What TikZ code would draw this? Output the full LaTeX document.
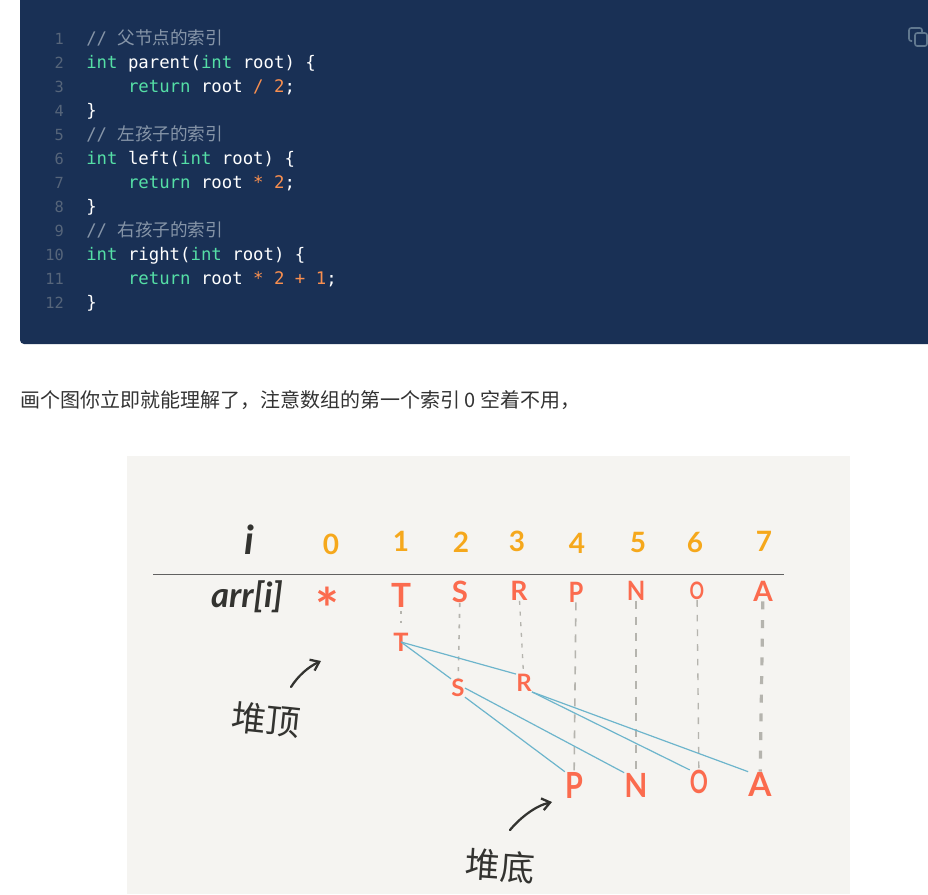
\documentclass[tikz,border=0pt]{standalone}
\usepackage{fontspec}
\usetikzlibrary{arrows.meta}
\setmainfont{Lato}
\setmonofont{DejaVu Sans Mono}
\newfontfamily\cjkfont{Noto Sans CJK SC}
\definecolor{codebg}{HTML}{193055}
\definecolor{kwc}{HTML}{55DFA6}
\definecolor{cmt}{HTML}{8695A8}
\definecolor{numc}{HTML}{F98F4F}
\definecolor{lnc}{HTML}{56657A}
\definecolor{panel}{HTML}{F5F4F1}
\definecolor{letterc}{HTML}{FB6B4E}
\definecolor{digitc}{HTML}{F5A81C}
\definecolor{inkc}{HTML}{333330}
\definecolor{edgec}{HTML}{6DB5CC}
\definecolor{dashc}{HTML}{B5B4AE}
\definecolor{iconc}{HTML}{61788F}
\newcommand{\kw}[1]{\textcolor{kwc}{#1}}
\newcommand{\nm}[1]{\textcolor{numc}{#1}}
\newcommand{\cm}[1]{\textcolor{cmt}{// {\cjkfont\fontsize{13.2}{13.2}\selectfont #1}}}
\tikzset{
  codeline/.style={anchor=base west,inner sep=0pt,text=white,font=\ttfamily\fontsize{13}{13}\selectfont},
  lineno/.style={anchor=base east,inner sep=0pt,text=lnc,font=\ttfamily\fontsize{11.5}{12}\selectfont},
  prose/.style={anchor=base west,inner sep=0pt,text=black!80,font=\cjkfont\fontsize{15}{15}\selectfont},
  digitl/.style={inner sep=0pt,text=digitc,font=\bfseries\fontsize{21}{21}\selectfont},
  letterl/.style={inner sep=0pt,minimum width=10pt,minimum height=10pt,text=letterc,font=\bfseries\fontsize{#1}{#1}\selectfont},
  narrow/.style={xscale=#1,transform shape},
  inkl/.style={inner sep=0pt,text=inkc,font=\bfseries\itshape\fontsize{#1}{#1}\selectfont},
  handl/.style={inner sep=0pt,text=inkc,font=\cjkfont\fontsize{#1}{#1}\selectfont},
  tree/.style={draw=edgec,line width=0.9pt},
  thindash/.style={draw=dashc,line width=1pt,dash pattern=on 3pt off 5pt},
  thickdash/.style={draw=dashc,line width=2.4pt,dash pattern=on 6pt off 8pt},
  meddash/.style={draw=dashc,line width=1.6pt,dash pattern=on 6pt off 6pt},
  dotsl/.style={draw=dashc,line width=2pt,dash pattern=on 2pt off 5pt},
  handarrow/.style={draw=inkc,line width=1.7pt,line cap=round,-{Straight Barb[length=6pt,width=9pt]}},
  rule/.style={draw=black!62,line width=0.9pt},
  iconl/.style={draw=iconc,line width=1.2pt,rounded corners=1.6pt},
}
\begin{document}
\begin{tikzpicture}[x=0.75pt,y=-0.75pt]
\useasboundingbox (0,0) rectangle (928,894);
\clip (0,0) rectangle (928,894);
\fill[white] (0,0) rectangle (928,894);
% code block
\fill[codebg,rounded corners=3pt] (950,-10) -- (20,-10) -- (20,344) -- (950,344) -- cycle;
\foreach \n/\yy in {1/44,2/68,3/92,4/116,5/140,6/164,7/188,8/212,9/236,10/260,11/284,12/308}
  \node[lineno] (ln\n) at (64,\yy) {\n};
\node[codeline] (c1) at (86,44) {\cm{父节点的索引}};
\node[codeline] (c2) at (86,68) {\kw{int} parent(\kw{int} root) \{};
\node[codeline] (c3) at (86,92) {\phantom{xxxx}\kw{return} root \nm{/} \nm{2};};
\node[codeline] (c4) at (86,116) {\}};
\node[codeline] (c5) at (86,140) {\cm{左孩子的索引}};
\node[codeline] (c6) at (86,164) {\kw{int} left(\kw{int} root) \{};
\node[codeline] (c7) at (86,188) {\phantom{xxxx}\kw{return} root \nm{*} \nm{2};};
\node[codeline] (c8) at (86,212) {\}};
\node[codeline] (c9) at (86,236) {\cm{右孩子的索引}};
\node[codeline] (c10) at (86,260) {\kw{int} right(\kw{int} root) \{};
\node[codeline] (c11) at (86,284) {\phantom{xxxx}\kw{return} root \nm{*} \nm{2} \nm{+} \nm{1};};
\node[codeline] (c12) at (86,308) {\}};
% copy icon
\draw[iconl] (912,41) -- (909,41) -- (909,28) -- (922,28) -- (922,32);
\draw[iconl] (915,33) rectangle (927,46);
% prose
\node[prose] (prose) at (20,407) {画个图你立即就能理解了，注意数组的第一个索引 0 空着不用，};
% panel
\fill[panel] (127,456) rectangle (850,894);
\draw[rule] (153,574.5) -- (784,574.5);
% header
\node[inkl=30] (ilabel) at (249,540) {i};
\node[digitl] (d0) at (331,544) {0};
\node[digitl] (d1) at (401,541) {1};
\node[digitl] (d2) at (461,542) {2};
\node[digitl] (d3) at (517,541) {3};
\node[digitl] (d4) at (577,543) {4};
\node[digitl] (d5) at (638,542) {5};
\node[digitl] (d6) at (695,542) {6};
\node[digitl] (d7) at (764,541) {7};
\node[inkl=26] (arr) at (247,597) {arr[i]};
\node[letterl=42] (star) at (327,608) {*};
\node[letterl=25] (T0) at (401,595) {T};
\node[letterl=22] (S0) at (460,592) {S};
\node[letterl=20] (R0) at (519,591) {R};
\node[letterl=21,narrow=0.85] (P0) at (576,592) {P};
\node[letterl=20,narrow=0.9] (N0) at (636,591) {N};
\node[letterl=18,narrow=0.75] (O0) at (697,591) {O};
\node[letterl=21] (A0) at (763,591) {A};
% tree letters
\node[letterl=19] (T) at (401,642) {T};
\node[letterl=18] (S) at (458,688) {S};
\node[letterl=18] (R) at (524,683) {R};
\node[letterl=27,narrow=0.8] (P) at (574,785) {P};
\node[letterl=25,narrow=0.9] (N) at (636,785) {N};
\node[letterl=24,narrow=0.7] (O) at (699,782) {O};
\node[letterl=25] (A) at (760,784) {A};
% vertical guides
\draw[dotsl,shorten <=3pt,shorten >=4pt] (T0) -- (T);
\draw[thindash,line width=1.2pt] (S0) -- (S);
\draw[thindash] (R0) -- (R);
\draw[meddash,line width=1.2pt] (P0) -- (P);
\draw[meddash] (N0) -- (N);
\draw[thindash,dash pattern=on 5pt off 6pt] (O0) -- (O);
\draw[thickdash] (A0) -- (A);
% tree edges
\draw[tree] (T.center) -- (S.north west);
\draw[tree] (T.center) -- (R.north west);
\draw[tree] (S.south east) -- (P.north west);
\draw[tree] (S.east) -- (N.north west);
\draw[tree] (R.south east) -- (O.north west);
\draw[tree] (R.south east) -- (A.north west);
% labels
\node[handl=26,rotate=-6] (top) at (266,720) {堆顶};
\node[handl=26,rotate=-4] (bottom) at (500,866) {堆底};
\coordinate (topstart) at (291,687);
\coordinate (toptip) at (321,661);
\coordinate (botstart) at (510,830);
\coordinate (bottip) at (552,802);
\draw[handarrow] (topstart) .. controls (298,676) and (308,667) .. (toptip);
\draw[handarrow] (botstart) .. controls (520,818) and (535,806) .. (bottip);
\end{tikzpicture}
\end{document}
